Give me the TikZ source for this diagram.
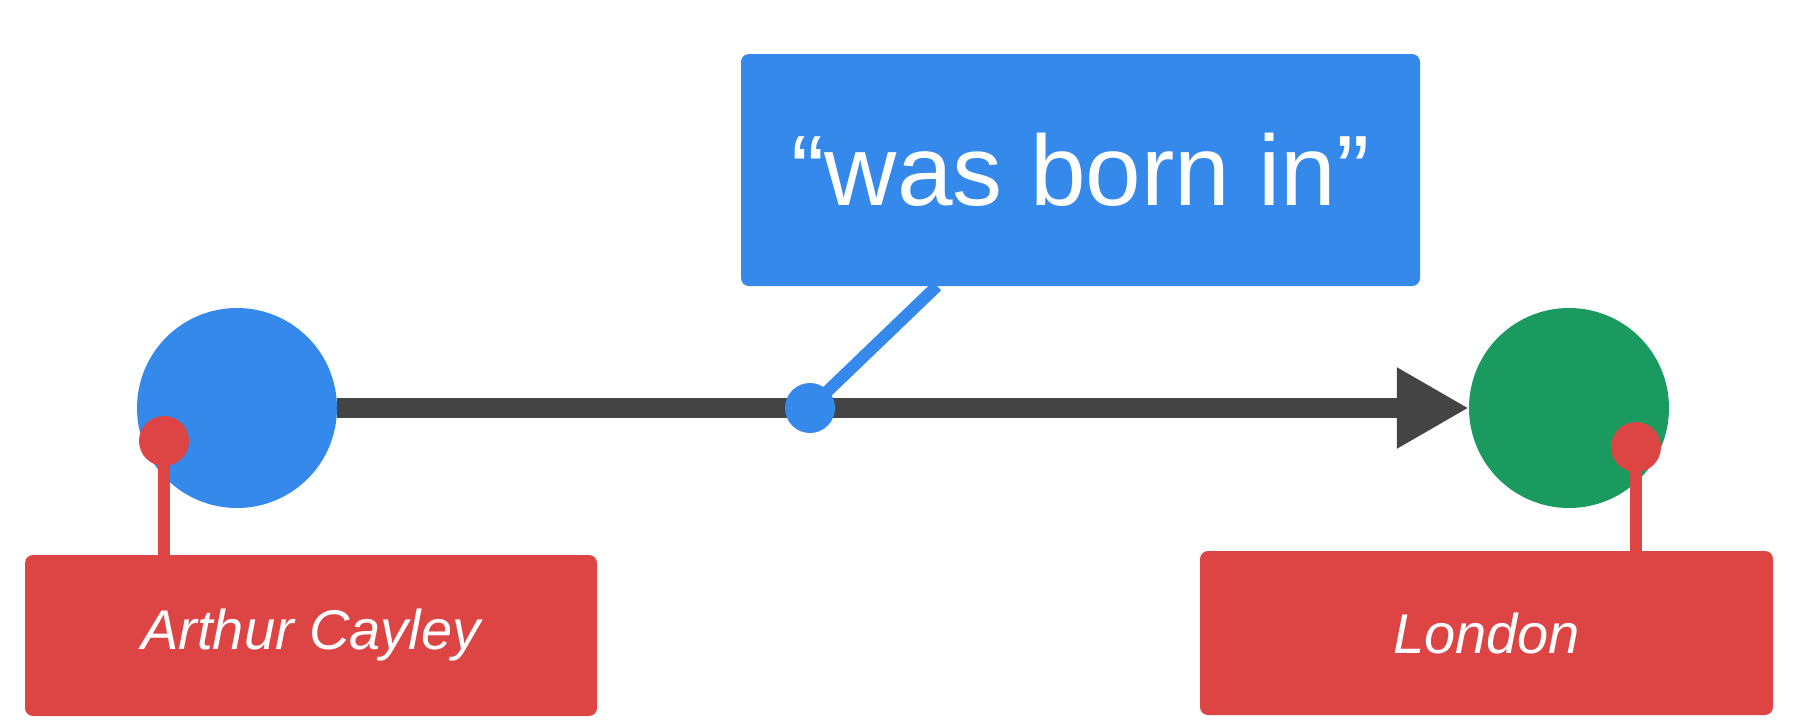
\documentclass[tikz,border=0pt]{standalone}
\usepackage{fontspec}
\setmainfont{Liberation Sans}
\usetikzlibrary{arrows.meta}
\definecolor{cblue}{HTML}{3489EA}
\definecolor{cgreen}{HTML}{1A9A5E}
\definecolor{cred}{HTML}{DD4545}
\definecolor{cdark}{HTML}{444444}
\tikzset{
  entity/.style={circle, inner sep=0pt, minimum size=200pt},
  pin/.style={circle, inner sep=0pt, minimum size=50pt},
  labelbox/.style={rectangle, rounded corners=8pt, inner sep=0pt, text=white},
}
\begin{document}
\begin{tikzpicture}[x=1pt, y=-1pt]
\useasboundingbox (0,0) rectangle (1796,724);
\fill[white] (0,0) rectangle (1796,724);
% boxes
\node[labelbox, fill=cblue, minimum width=679pt, minimum height=232pt, font=\fontsize{100}{110}\selectfont] (rel) at (1080.5,170) {\char"201C was born in\char"201D};
\node[labelbox, fill=cred, minimum width=572pt, minimum height=161pt, font=\fontsize{56}{64}\selectfont\itshape] (ac) at (311,635.5) {Arthur Cayley};
\node[labelbox, fill=cred, minimum width=573pt, minimum height=164pt, font=\fontsize{56}{64}\selectfont\itshape] (lon) at (1486.5,633) {London};
% entities
\node[entity, fill=cblue] (A) at (237,408) {};
\node[entity, fill=cgreen] (L) at (1569,408) {};
% main edge
\draw[cdark, line width=20pt, -{Triangle[length=72pt, width=76pt]}] (A.east) -- (L.west);
% relation pin
\node[pin, fill=cblue] (rp) at (810,408) {};
\coordinate (rb) at (937,286);
\draw[cblue, line width=12pt] (rp.center) -- (rb);
% entity pins
\node[pin, fill=cred] (ap) at (164,441) {};
\coordinate (at) at (164,556);
\draw[cred, line width=12pt] (ap.center) -- (at);
\node[pin, fill=cred] (lp) at (1636,447) {};
\coordinate (lt) at (1636,552);
\draw[cred, line width=12pt] (lp.center) -- (lt);
\end{tikzpicture}
\end{document}
